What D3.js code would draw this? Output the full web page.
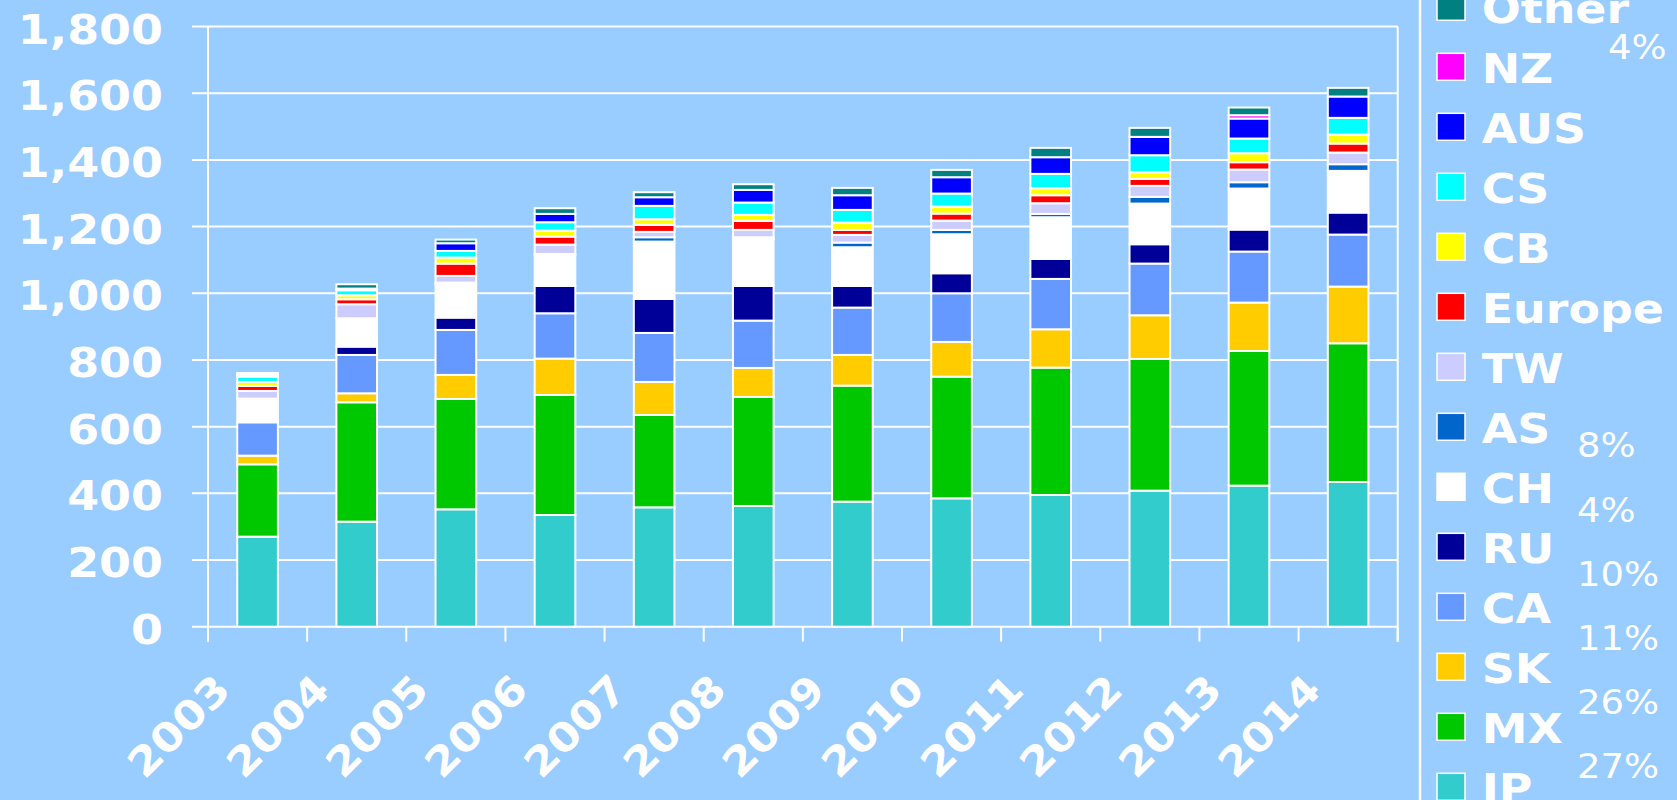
<!DOCTYPE html>
<html lang="en">
<head>
  <meta charset="UTF-8" />
  <title>Stacked bars 2003–2014</title>
  <style>
    body { margin: 0; background: #99ccff; }
    svg { display: block; }
    text { fill: #fff; font-family: 'DejaVu Sans', Verdana, sans-serif; }
    .tick-label, .legend-label { font-weight: bold; }
    .pct { font-weight: normal; }
  </style>
</head>
<body>
  <svg id="chart" width="1677" height="800"></svg>
  <script src="https://d3js.org/d3.v7.min.js"></script>
  <script>
    // categories
    const years = ["2003","2004","2005","2006","2007","2008","2009","2010","2011","2012","2013","2014"];
    // series, bottom of the stack first
    const seriesNames = ["JP","MX","SK","CA","RU","CH","AS","TW","Europe","CB","CS","AUS","NZ","Other"];
    const JP     = [270, 315, 352, 335, 358, 362, 375, 385, 395, 408, 423, 434];
    const MX     = [217, 358, 331, 360, 277, 327, 348, 365, 382, 395, 404, 416];
    const SK     = [ 26,  27,  72, 109,  99,  87,  92, 104, 115, 131, 145, 170];
    const CA     = [100, 115, 135, 136, 147, 142, 142, 146, 151, 155, 153, 156];
    const RU     = [  2,  25,  37,  82, 102, 104,  65,  60,  60,  58,  66,  66];
    const CH     = [ 69,  85, 100,  93, 172, 140, 116, 117, 125, 122, 123, 125];
    const AS     = [  0,   0,   5,   3,  13,   6,  14,  13,  10,  20,  19,  20];
    const TW     = [ 23,  42,  20,  28,  16,  22,  23,  28,  32,  33,  38,  35];
    const Europe = [ 15,  15,  37,  24,  21,  27,  15,  21,  24,  21,  22,  27];
    const CB     = [ 12,  12,  18,  18,  17,  18,  22,  21,  21,  20,  27,  27];
    const CS     = [ 15,  15,  20,  25,  40,  37,  38,  39,  43,  51,  44,  50];
    const AUS    = [  6,   5,  23,  25,  26,  38,  44,  49,  50,  55,  60,  64];
    const NZ     = [  0,   0,   0,   0,   0,   0,   0,   0,   0,   0,  10,   0];
    const Other  = [  6,  13,  11,  17,  15,  17,  22,  22,  28,  27,  23,  26];
    const seriesValues = [JP, MX, SK, CA, RU, CH, AS, TW, Europe, CB, CS, AUS, NZ, Other];
    const seriesColors = ["#33cccc","#00c800","#ffcc00","#6699ff","#000099","#ffffff",
                          "#0066cc","#ccccff","#ff0000","#ffff00","#00ffff","#0000ff","#ff00ff","#008080"];
    // y tick labels
    const yTicks = [0, 200, 400, 600, 800, 1000, 1200, 1400, 1600, 1800];
    // share labels next to the legend (top to bottom)
    const shareLabels = ["4%", "8%", "4%", "10%", "11%", "26%", "27%"];

    const svg = d3.select("#chart");
    const W = 1677, H = 800;
    const stretch = 1.12;  // the original lettering is a little wider than DejaVu

    svg.append("rect").attr("width", W).attr("height", H).attr("fill", "#99ccff");

    const plot = { left: 208, right: 1397.7, top: 26.5, bottom: 626.7 };

    const x = d3.scaleBand().domain(years)
      .range([plot.left, plot.right])
      .paddingInner(0.59).paddingOuter(0.295);
    const y = d3.scaleLinear().domain([0, 1800]).range([plot.bottom, plot.top]);

    // table for the stack
    const table = years.map((yr, i) => {
      const row = { year: yr };
      seriesNames.forEach((s, k) => row[s] = seriesValues[k][i]);
      return row;
    });
    const stacked = d3.stack().keys(seriesNames)(table);

    // gridlines + y labels
    svg.append("g").selectAll("line").data(yTicks).join("line")
      .attr("x1", plot.left - 16).attr("x2", plot.right)
      .attr("y1", d => y(d)).attr("y2", d => y(d))
      .attr("stroke", "#fff").attr("stroke-width", 2);

    svg.append("g").selectAll("text").data(yTicks).join("text")
      .attr("class", "tick-label")
      .attr("transform", d => `translate(163,${y(d) + 17}) scale(${stretch},1)`)
      .attr("text-anchor", "end")
      .attr("font-size", 41)
      .text(d => d3.format(",")(d));

    // category boundary ticks along the x axis
    const bounds = d3.range(years.length + 1).map(i => x.range()[0] + i * x.step());
    svg.append("g").selectAll("line").data(bounds).join("line")
      .attr("x1", d => d).attr("x2", d => d)
      .attr("y1", plot.bottom).attr("y2", plot.bottom + 15)
      .attr("stroke", "#fff").attr("stroke-width", 2);

    // left axis and right border
    svg.append("line").attr("x1", plot.left).attr("x2", plot.left)
      .attr("y1", plot.top).attr("y2", plot.bottom + 15)
      .attr("stroke", "#fff").attr("stroke-width", 2);
    svg.append("line").attr("x1", plot.right).attr("x2", plot.right)
      .attr("y1", plot.top).attr("y2", plot.bottom + 15)
      .attr("stroke", "#fff").attr("stroke-width", 2);

    // bars
    svg.append("g").selectAll("g").data(stacked).join("g")
      .attr("fill", (d, k) => seriesColors[k])
      .selectAll("rect").data(d => d).join("rect")
      .attr("x", d => x(d.data.year))
      .attr("width", x.bandwidth())
      .attr("y", d => y(d[1]))
      .attr("height", d => y(d[0]) - y(d[1]))
      .attr("stroke", "#fff").attr("stroke-width", 2);

    // x labels, rotated
    svg.append("g").selectAll("text").data(years).join("text")
      .attr("class", "tick-label")
      .attr("text-anchor", "end")
      .attr("font-size", 40)
      .attr("transform", d => `translate(${x(d) + x.bandwidth() / 2 - 25},692) rotate(-45) scale(${stretch},1)`)
      .text(d => d);

    // legend
    svg.append("line").attr("x1", 1420).attr("x2", 1420).attr("y1", 0).attr("y2", H)
      .attr("stroke", "#fff").attr("stroke-width", 2.5);

    const legendOrder = seriesNames.slice().reverse();
    const legend = svg.append("g").selectAll("g").data(legendOrder).join("g")
      .attr("transform", (d, i) => `translate(1437,${-6.7 + i * 60})`);
    legend.append("rect")
      .attr("width", 28).attr("height", 27)
      .attr("fill", d => seriesColors[seriesNames.indexOf(d)])
      .attr("stroke", "#fff").attr("stroke-width", 1.5);
    legend.append("text")
      .attr("class", "legend-label")
      .attr("font-size", 41)
      .attr("transform", `translate(44.7,30) scale(${stretch},1)`)
      .text(d => d);

    // share labels
    const pctPos = [[1608, 59], [1577, 457], [1577, 521.7], [1577, 585.7],
                    [1577, 649.5], [1577, 714], [1577, 778.3]];
    svg.append("g").selectAll("text").data(shareLabels).join("text")
      .attr("class", "pct")
      .attr("font-size", 33)
      .attr("transform", (d, i) => `translate(${pctPos[i][0]},${pctPos[i][1]}) scale(${stretch},1)`)
      .text(d => d);
  </script>
</body>
</html>
